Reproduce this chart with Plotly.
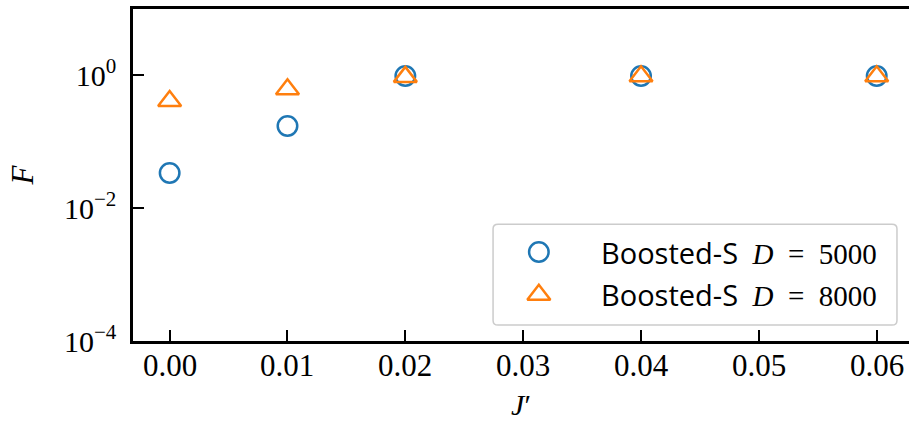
import plotly.graph_objects as go

# Data
j_prime = [0.00, 0.01, 0.02, 0.04, 0.06]
f_d5000 = [0.034, 0.173, 0.98, 0.98, 0.98]
f_d8000 = [0.41, 0.62, 0.95, 0.97, 0.97]
series_names = ["Boosted-S", "Boosted-S"]
series_d = ["5000", "8000"]
y_tick_vals = [1e-4, 1e-2, 1e0]
y_tick_text = ["10<sup>−4</sup>", "10<sup>−2</sup>", "10<sup>0</sup>"]
x_tick_vals = [0.00, 0.01, 0.02, 0.03, 0.04, 0.05, 0.06]
x_tick_text = ["0.00", "0.01", "0.02", "0.03", "0.04", "0.05", "0.06"]

BLUE = "#1f77b4"
ORANGE = "#ff7f0e"
SERIF = "Liberation Serif"
SANS = "Open Sans"

styles = [
    dict(symbol="circle-open", size=19.5, color=BLUE),
    dict(symbol="triangle-up-open", size=20, color=ORANGE),
]

fig = go.Figure()
for yvals, st in zip([f_d5000, f_d8000], styles):
    fig.add_trace(go.Scatter(
        x=j_prime, y=yvals, mode="markers", showlegend=False,
        marker=dict(symbol=st["symbol"], size=st["size"],
                    color=st["color"], line=dict(color=st["color"], width=2.5)),
        cliponaxis=False, hoverinfo="skip",
    ))

# Legend drawn on an auxiliary unit axis laid over the plot area
leg_left, leg_right, leg_bottom, leg_top = 0.464, 0.9845, 0.048, 0.352
rx, ry = 0.0065, 0.014
box_path = (
    f"M {leg_left + rx} {leg_bottom} L {leg_right - rx} {leg_bottom} "
    f"Q {leg_right} {leg_bottom} {leg_right} {leg_bottom + ry} "
    f"L {leg_right} {leg_top - ry} Q {leg_right} {leg_top} {leg_right - rx} {leg_top} "
    f"L {leg_left + rx} {leg_top} Q {leg_left} {leg_top} {leg_left} {leg_top - ry} "
    f"L {leg_left} {leg_bottom + ry} Q {leg_left} {leg_bottom} {leg_left + rx} {leg_bottom} Z"
)
fig.add_shape(type="path", path=box_path, xref="x2", yref="y2",
              line=dict(color="#cccccc", width=1.5),
              fillcolor="rgba(255,255,255,0.8)", layer="below")

row_y = [0.268, 0.139]
key_x = 0.523
text_x = 0.600
for st, ry_, name, d in zip(styles, row_y, series_names, series_d):
    fig.add_trace(go.Scatter(
        x=[key_x], y=[ry_], xaxis="x2", yaxis="y2", mode="markers",
        showlegend=False, hoverinfo="skip",
        marker=dict(symbol=st["symbol"], size=st["size"], color=st["color"],
                    line=dict(color=st["color"], width=2.5)),
    ))
    fig.add_annotation(
        x=text_x, y=ry_, xref="x2", yref="y2", xanchor="left", yanchor="middle",
        showarrow=False,
        text=(f'<span style="font-family:\'{SANS}\', sans-serif">{name}</span>'
              f'&nbsp;&nbsp;<i>D</i>&nbsp;&nbsp;=&nbsp;&nbsp;{d}'),
        font=dict(family=SERIF, size=29, color="black"),
    )

# x tick labels placed just under the axis line
for xv, xt in zip(x_tick_vals, x_tick_text):
    fig.add_annotation(
        x=xv, y=0, xref="x", yref="paper", xanchor="center", yanchor="top",
        yshift=-5, showarrow=False, text=xt,
        font=dict(family=SERIF, size=31, color="black"),
    )

fig.update_layout(
    width=909, height=421,
    margin=dict(l=133, r=0, t=9, b=80),
    paper_bgcolor="white", plot_bgcolor="white",
    font=dict(family=SERIF, color="black"),
    xaxis=dict(
        range=[-0.00311, 0.06274], showgrid=False, zeroline=False,
        showline=True, linecolor="black", linewidth=2.5, mirror=True,
        ticks="inside", ticklen=11, tickwidth=2, tickcolor="black",
        tickvals=x_tick_vals, showticklabels=False,
        title=dict(text="<i>J</i>′", font=dict(family=SERIF, size=30), standoff=52),
    ),
    yaxis=dict(
        type="log", range=[-4, 1], showgrid=False, zeroline=False,
        showline=True, linecolor="black", linewidth=2.5,
        ticks="inside", ticklen=11, tickwidth=2, tickcolor="black",
        tickvals=y_tick_vals, ticktext=y_tick_text,
        tickfont=dict(family=SERIF, size=30), ticklabelstandoff=8,
        title=dict(text="<i>F</i>", font=dict(family=SERIF, size=31), standoff=22),
    ),
    xaxis2=dict(domain=[0, 1], range=[0, 1], visible=False, anchor="y2",
                overlaying="x"),
    yaxis2=dict(domain=[0, 1], range=[0, 1], visible=False, anchor="x2",
                overlaying="y"),
)

fig.write_html("out.html")
